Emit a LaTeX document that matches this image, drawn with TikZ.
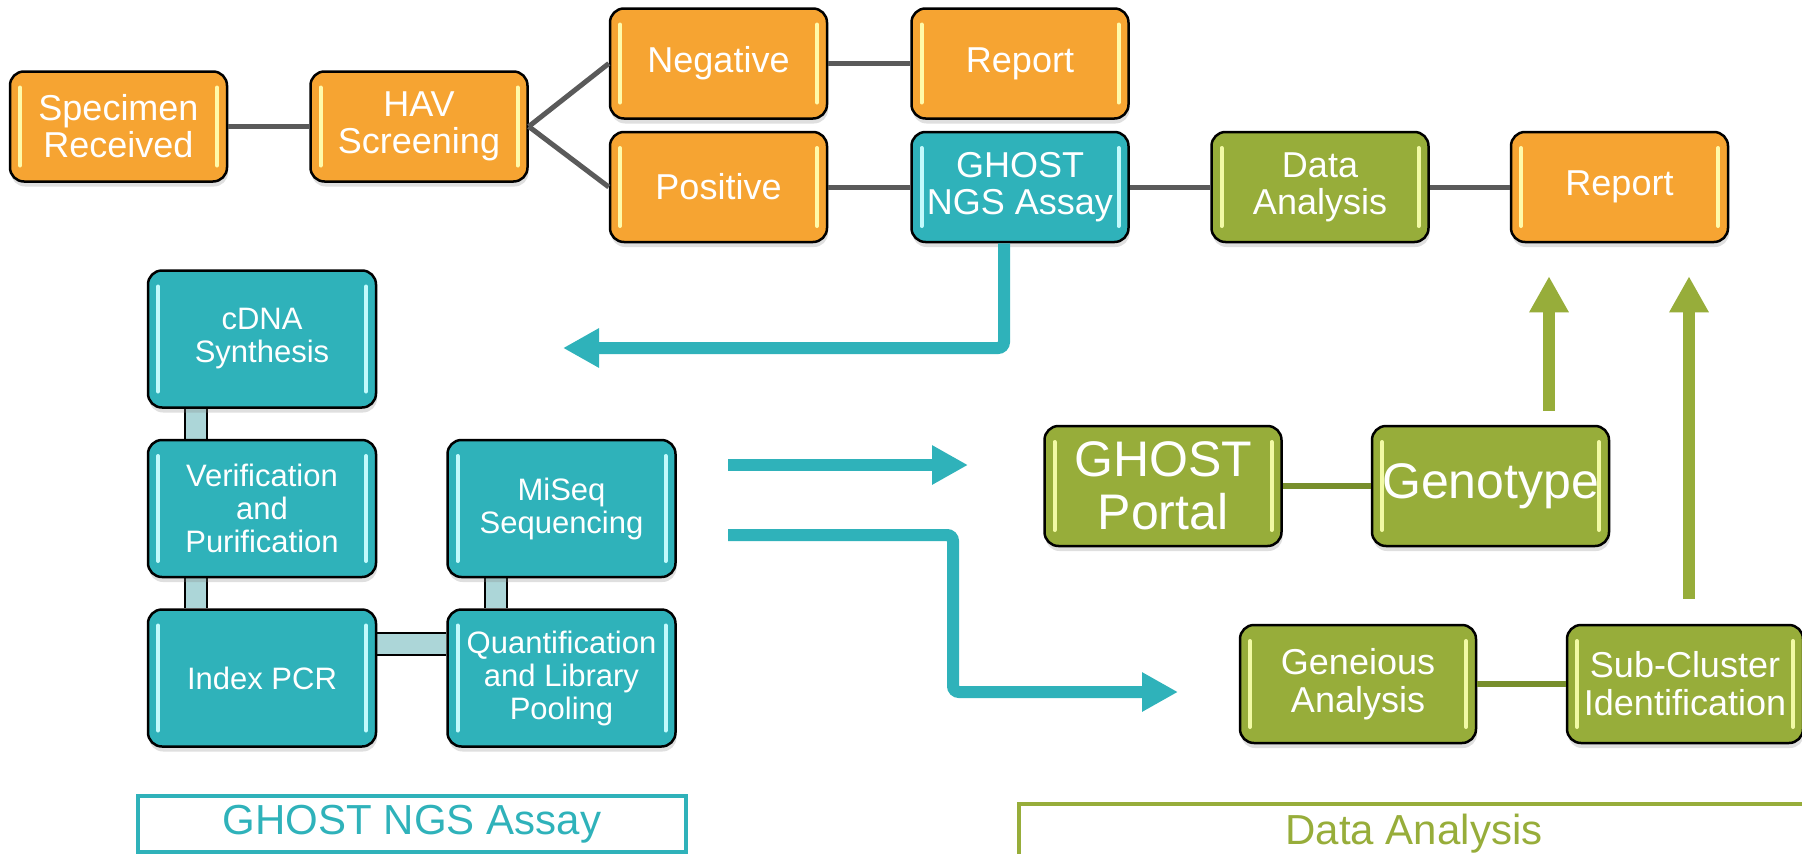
\documentclass[tikz,border=0pt]{standalone}
\usepackage{fontspec}
\setmainfont{Liberation Sans}
\usetikzlibrary{arrows.meta,shadows,backgrounds}

\definecolor{boxorange}{RGB}{246,164,50}
\definecolor{boxteal}{RGB}{47,178,186}
\definecolor{boxgreen}{RGB}{151,173,58}
\definecolor{linkgrey}{RGB}{90,90,90}
\definecolor{linkgreen}{RGB}{120,143,44}
\definecolor{barteal}{RGB}{172,214,216}
\definecolor{glowyellow}{RGB}{255,250,170}
\definecolor{glowcyan}{RGB}{195,250,252}
\definecolor{glowlime}{RGB}{242,250,165}

\newcommand{\boxfont}[2]{\fontsize{#1}{#2}\selectfont}

\tikzset{
  stage/.style 2 args={draw=black, line width=2.5pt, fill=#1, rounded corners=14pt,
    text=white, align=center, inner sep=0pt,
    minimum width=217pt, minimum height=110pt, font=\boxfont{36}{37},
    drop shadow={shadow xshift=1pt, shadow yshift=-5pt, opacity=0.25},
    path picture={
      \draw[#2, line width=4pt, line cap=round]
        ([xshift=10pt,yshift=-16pt]path picture bounding box.north west) --
        ([xshift=10pt,yshift=16pt]path picture bounding box.south west);
      \draw[#2, line width=4pt, line cap=round]
        ([xshift=-10pt,yshift=-16pt]path picture bounding box.north east) --
        ([xshift=-10pt,yshift=16pt]path picture bounding box.south east);
    }},
  orangebox/.style={stage={boxorange}{glowyellow}},
  tealbox/.style={stage={boxteal}{glowcyan}},
  greenbox/.style={stage={boxgreen}{glowlime}},
  assay/.style={minimum width=228pt, minimum height=137pt, font=\boxfont{31}{33}},
  portal/.style={minimum width=237pt, minimum height=120pt, font=\boxfont{50}{53}},
  analysis/.style={minimum width=236pt, minimum height=118pt, font=\boxfont{36}{38}},
  greylink/.style={draw=linkgrey, line width=5pt},
  greenlink/.style={draw=linkgreen, line width=6pt},
  tealbar/.style={draw=black, line width=2pt, double=barteal, double distance=20pt},
  tealflow/.style={draw=boxteal, line width=12pt, rounded corners=6pt,
    -{Triangle[length=36pt,width=37pt]}},
  greenflow/.style={draw=boxgreen, line width=12pt,
    -{Triangle[length=36pt,width=37pt]}},
  panel/.style={draw=#1, line width=4pt, text=#1, font=\boxfont{42}{44}, inner sep=0pt}
}

\begin{document}
\begin{tikzpicture}[x=1pt,y=-1pt]
  \useasboundingbox (0,0) rectangle (1802,854);

  % screening row
  \node[orangebox] (spec) at (118.5,126.5) {Specimen\\Received};
  \node[orangebox] (hav)  at (419,126.5)   {HAV\\Screening};
  \node[orangebox] (neg)  at (718.5,63.5)  {Negative};
  \node[orangebox] (pos)  at (718.5,187)   {Positive};
  \node[orangebox] (rep)  at (1020,63.5)   {Report};
  \node[tealbox]   (ngs)  at (1020,187)    {GHOST\\NGS Assay};
  \node[greenbox]  (data) at (1320,187)    {Data\\Analysis};
  \node[orangebox] (rep2) at (1619.5,187)  {Report};

  \draw[greylink] (spec) -- (hav);
  \draw[greylink] (hav.east) -- (neg.west);
  \draw[greylink] (hav.east) -- (pos.west);
  \draw[greylink] (neg) -- (rep);
  \draw[greylink] (pos) -- (ngs);
  \draw[greylink] (ngs) -- (data);
  \draw[greylink] (data) -- (rep2);

  % assay steps
  \node[tealbox,assay] (cdna)  at (262,339)     {cDNA\\Synthesis};
  \node[tealbox,assay] (verif) at (262,508.5)   {Verification\\and\\Purification};
  \node[tealbox,assay] (idx)   at (262,678)     {Index PCR};
  \node[tealbox,assay] (miseq) at (561.5,508.5) {MiSeq\\Sequencing};
  \node[tealbox,assay] (quant) at (561.5,678)   {Quantification\\and Library\\Pooling};

  \begin{scope}[on background layer]
    \draw[tealbar] ([xshift=-66pt]cdna.south) -- ([xshift=-66pt]verif.north);
    \draw[tealbar] ([xshift=-66pt]verif.south) -- ([xshift=-66pt]idx.north);
    \draw[tealbar] ([xshift=-66pt]miseq.south) -- ([xshift=-66pt]quant.north);
    \draw[tealbar] ([yshift=34pt]idx.east) -- ([yshift=34pt]quant.west);
  \end{scope}

  % analysis steps
  \node[greenbox,portal]   (ghost) at (1163,486)   {GHOST\\Portal};
  \node[greenbox,portal]   (geno)  at (1490.5,486) {Genotype};
  \node[greenbox,analysis] (gene)  at (1358,684)   {Geneious\\Analysis};
  \node[greenbox,analysis] (sub)   at (1685,684)   {Sub-Cluster\\Identification};

  \draw[greenlink] (ghost) -- (geno);
  \draw[greenlink] (gene) -- (sub);

  % flow arrows
  \coordinate (assaytip) at (563,348);
  \coordinate (portalfrom) at (728,465);
  \coordinate (portalto) at (968,465);
  \coordinate (genefrom) at (728,535);
  \coordinate (geneknee) at (953,692);
  \coordinate (geneto) at (1178,692);

  \draw[tealflow] ([xshift=-16pt]ngs.south) |- (assaytip);
  \draw[tealflow] (portalfrom) -- (portalto);
  \draw[tealflow] (genefrom) -| (geneknee) -- (geneto);

  \draw[greenflow] ([xshift=58.5pt,yshift=14pt]geno.north) -- ([xshift=-70.5pt,yshift=-33pt]rep2.south);
  \draw[greenflow] ([xshift=4pt,yshift=25pt]sub.north) -- ([xshift=69.5pt,yshift=-33pt]rep2.south);

  % panel captions
  \node[panel=boxteal, minimum width=548pt, minimum height=56pt] (assaycap) at (412,824) {GHOST NGS Assay};
  \node[panel=boxgreen, minimum width=790pt, minimum height=60pt] (datacap) at (1414,834) {Data Analysis};
\end{tikzpicture}
\end{document}
